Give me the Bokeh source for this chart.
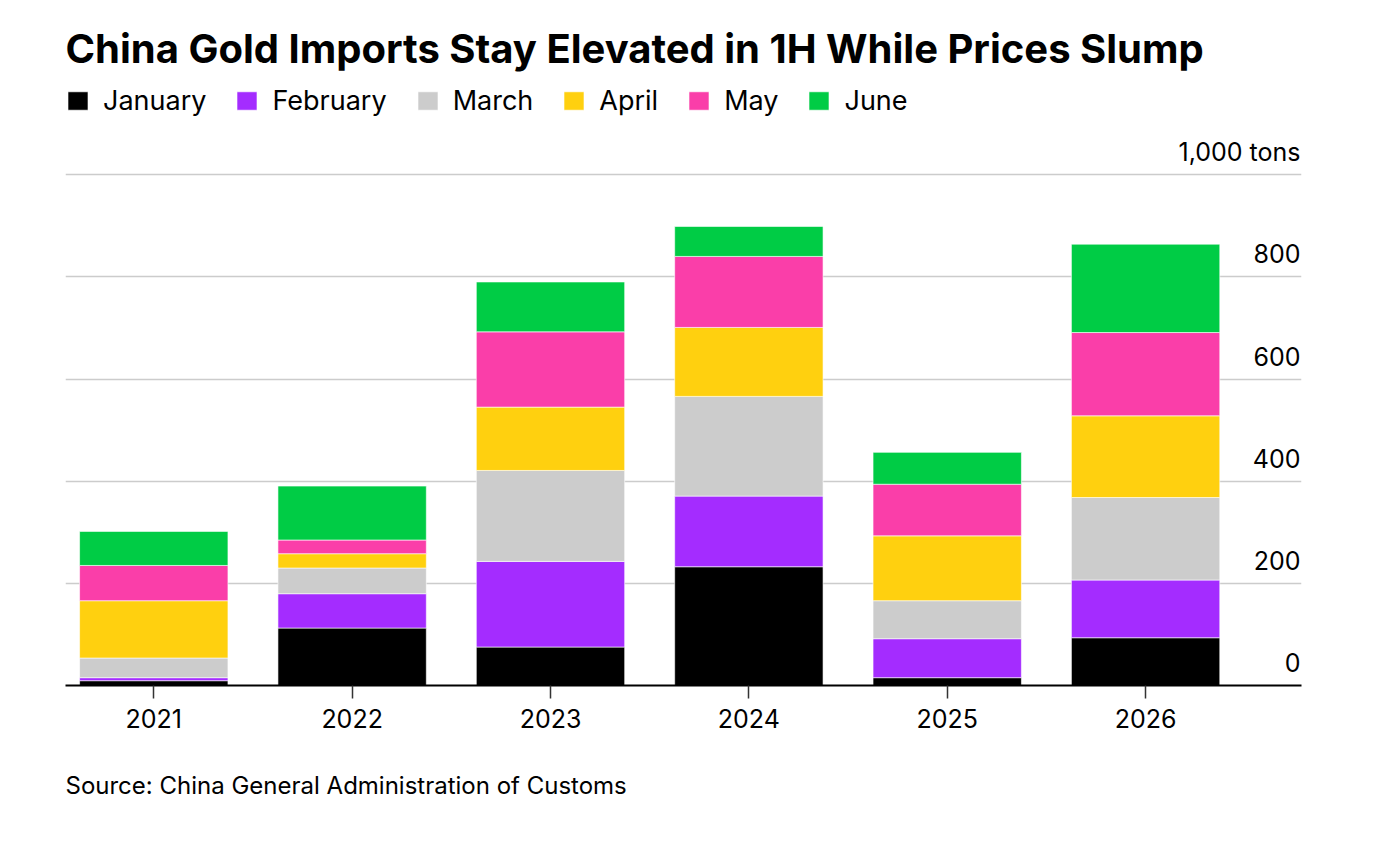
from bokeh.plotting import figure
from bokeh.models import Legend, LegendItem, Title, FixedTicker, ColumnDataSource, Range1d
from bokeh.core.properties import value
from bokeh.embed import file_html
from bokeh.resources import INLINE

# ---- data ----
years = [2021, 2022, 2023, 2024, 2025, 2026]
year_labels = ["2021", "2022", "2023", "2024", "2025", "2026"]
months = ["January", "February", "March", "April", "May", "June"]
january = [9.4, 112.5, 75.3, 232.5, 15.3, 93.5]
february = [5.9, 67.2, 167.7, 138.3, 76.3, 113.0]
march = [38.5, 50.3, 178.0, 195.2, 74.4, 161.5]
april = [112.2, 28.0, 124.0, 135.0, 127.0, 160.0]
may = [69.0, 26.8, 147.4, 139.0, 101.0, 163.0]
june = [66.7, 105.6, 97.6, 58.7, 62.4, 173.0]
y_ticks = [0, 200, 400, 600, 800, 1000]
y_tick_labels = ["0", "200", "400", "600", "800", "1,000 tons"]
title_text = "China Gold Imports Stay Elevated in 1H While Prices Slump"
source_text = "Source: China General Administration of Customs"

colors = ["#000000", "#a42cff", "#cccccc", "#ffd00f", "#fa3ea9", "#00cc45"]
FONT = "Inter"

src = ColumnDataSource(dict(year=years, January=january, February=february,
                            March=march, April=april, May=may, June=june))

x_start, x_end = 2020.555, 2026.786
p = figure(width=1340, height=841,
           x_range=Range1d(x_start, x_end), y_range=Range1d(0, 1176.6),
           output_backend="svg", toolbar_location=None, title=None,
           min_border_left=65, min_border_right=39, min_border_top=84,
           min_border_bottom=156)
p.outline_line_color = None
p.background_fill_color = "white"

renderers = p.vbar_stack(months, x="year", width=0.748, color=colors,
                         line_color="white", line_width=0.6, source=src)

# y grid / labels
p.yaxis.visible = False
p.ygrid.ticker = FixedTicker(ticks=y_ticks[1:])
p.ygrid.grid_line_color = "#cccccc"
p.ygrid.grid_line_width = 1.6
p.xgrid.visible = False

p.text(x=[x_end] * len(y_ticks), y=y_ticks, text=y_tick_labels,
       text_align="right", text_baseline="middle", y_offset=-23, x_offset=-1,
       text_font=value(FONT), text_font_size="25px", text_color="#000000")

# x axis
xa = p.xaxis[0]
xa.ticker = FixedTicker(ticks=years)
xa.major_label_overrides = {y: l for y, l in zip(years, year_labels)}
xa.axis_line_color = "#000000"
xa.axis_line_width = 2
xa.major_tick_in = 0
xa.major_tick_out = 13
xa.major_tick_line_color = "#333333"
xa.major_tick_line_width = 1.5
xa.minor_tick_line_color = None
xa.major_label_text_font = FONT
xa.major_label_text_font_size = "25px"
xa.major_label_text_color = "#000000"
xa.major_label_standoff = 10

# legend inside the top of the frame
legend = Legend(items=[LegendItem(label=m, renderers=[r]) for m, r in zip(months, renderers)],
                orientation="horizontal", location="top_left",
                glyph_width=25, glyph_height=23, label_standoff=13, spacing=28,
                label_text_font=FONT, label_text_font_size="27px",
                label_text_color="#000000", border_line_color=None,
                background_fill_alpha=0, margin=0, padding=0)
p.add_layout(legend, "center")

p.add_layout(Title(text=title_text, text_font=FONT, text_font_size="40px",
                   text_font_style="bold", align="left", text_color="#000000",
                   standoff=24), "above")

p.add_layout(Title(text=source_text, text_font=FONT, text_font_size="24px",
                   text_font_style="normal", align="left", text_color="#000000",
                   standoff=77), "below")

open("out.html", "w").write(file_html(p, INLINE))
